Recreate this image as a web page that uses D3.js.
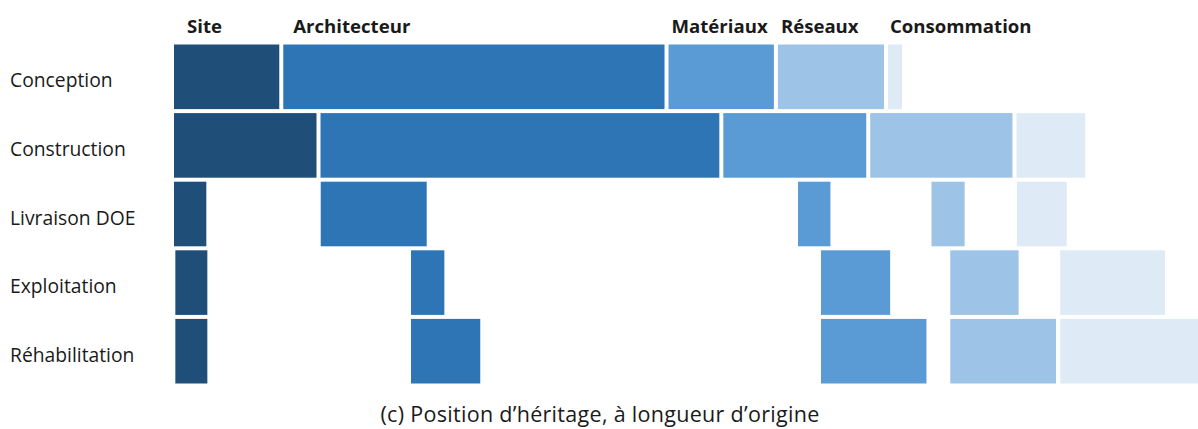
<!DOCTYPE html>
<html>
<head>
<meta charset="utf-8">
<script src="https://cdn.jsdelivr.net/npm/d3@7"></script>
<style>
  html, body { margin: 0; padding: 0; background: #ffffff; }
  svg { display: block; }
  text { font-family: "Open Sans", "DejaVu Sans", sans-serif; fill: #1a1a1a; }
</style>
</head>
<body>
<div id="chart"></div>
<script>
// Lifecycle phases (rows) and the five information categories (columns)
const phases = ["Conception", "Construction", "Livraison DOE", "Exploitation", "Réhabilitation"];
const categories = ["Site", "Architecteur", "Matériaux", "Réseaux", "Consommation"];

// Start position and length of each category, one value per phase
const siteStart = [0, 0, 0, 0.13, 0.13];
const siteLength = [10.65, 14.28, 3.54, 3.51, 3.51];

const architecteurStart = [10.65, 14.28, 14.3, 23.1, 23.1];
const architecteurLength = [37.55, 39.26, 10.72, 3.64, 7.14];

const materiauxStart = [48.2, 53.54, 60.82, 63.06, 63.06];
const materiauxLength = [10.66, 14.32, 3.55, 7.13, 10.67];

const reseauxStart = [58.86, 67.86, 73.83, 75.66, 75.66];
const reseauxLength = [10.73, 14.25, 3.62, 7.05, 10.7];

const consommationStart = [69.59, 82.11, 82.15, 86.38, 86.38];
const consommationLength = [1.76, 7.09, 5.25, 10.6, 14.2];

const caption = "(c) Position d’héritage, à longueur d’origine";

const colors = ["#1f4e79", "#2e75b6", "#5b9bd5", "#9dc3e6", "#deebf7"];

const starts = [siteStart, architecteurStart, materiauxStart, reseauxStart, consommationStart];
const lengths = [siteLength, architecteurLength, materiauxLength, reseauxLength, consommationLength];

const segments = [];
categories.forEach((cat, ci) => {
  phases.forEach((ph, pi) => {
    segments.push({ category: cat, ci, phase: ph, start: starts[ci][pi], length: lengths[ci][pi] });
  });
});

const width = 1198, height = 429;
const gap = 2;

const svg = d3.select("#chart").append("svg")
  .attr("width", width)
  .attr("height", height);

const x = d3.scaleLinear().domain([0, 100]).range([172, 1198]);
const y = d3.scaleBand().domain(phases).range([42.5, 385.5]).padding(0);
const color = d3.scaleOrdinal().domain(categories).range(colors);

// Bars: each segment inset so that neighbours are separated by a white gap
svg.append("g").selectAll("rect")
  .data(segments)
  .join("rect")
  .attr("x", d => x(d.start) + gap)
  .attr("y", d => y(d.phase) + gap)
  .attr("width", d => Math.max(0, x(d.start + d.length) - x(d.start) - 2 * gap))
  .attr("height", y.bandwidth() - 2 * gap)
  .attr("fill", d => color(d.category));

// Phase labels on the left
svg.append("g").selectAll("text")
  .data(phases)
  .join("text")
  .attr("x", 10)
  .attr("y", d => y(d) + y.bandwidth() / 2 + 10.5)
  .attr("font-size", 19.3)
  .text(d => d);

// Category headers above the first row
const headerDx = [13, 10, 3, 3, 2];
svg.append("g").selectAll("text")
  .data(categories)
  .join("text")
  .attr("x", (d, i) => x(starts[i][0]) + gap + headerDx[i])
  .attr("y", 33)
  .attr("font-size", 18.6)
  .attr("font-weight", 700)
  .text(d => d);

// Caption
svg.append("text")
  .attr("x", 600)
  .attr("y", 422)
  .attr("text-anchor", "middle")
  .attr("font-size", 21.5)
  .attr("letter-spacing", 0.3)
  .text(caption);
</script>
</body>
</html>
